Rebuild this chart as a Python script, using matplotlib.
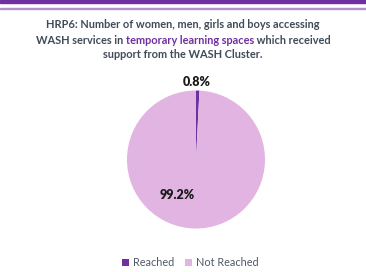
import matplotlib.pyplot as plt
from matplotlib.patches import Rectangle

labels = ["Reached", "Not Reached"]
values = [0.8, 99.2]
colors = ["#7030a0", "#e1b4e1"]

plt.rcParams['font.family'] = ['Lato', 'DejaVu Sans']

fig = plt.figure(figsize=(3.66, 2.72), dpi=100)

# top border bands
fig.patches.append(Rectangle((0, 1 - 2.7/272), 1, 2.7/272, transform=fig.transFigure,
                             color="#7030a0", zorder=0))
fig.patches.append(Rectangle((0, 1 - 9/272), 1, 1.5/272, transform=fig.transFigure,
                             color="#b48fd0", zorder=0))

title_c = "#404b5a"
fs = 7.9
fig.text(0.5, 1 - 25/272, "HRP6: Number of women, men, girls and boys accessing",
         ha="center", va="center", fontsize=fs, fontweight="bold", color=title_c)
# second line with highlighted phrase
parts = [("WASH services in ", title_c), ("temporary learning spaces", "#7030a0"),
         (" which received", title_c)]
t = fig.text(0.5, 1 - 40/272, "".join(p[0] for p in parts), ha="center", va="center",
             fontsize=fs, fontweight="bold", color=title_c, alpha=0)
fig.canvas.draw()
bb = t.get_window_extent()
x = bb.x0
for s, c in parts:
    tt = fig.text(x / fig.bbox.width, 1 - 40/272, s, ha="left", va="center",
                  fontsize=fs, fontweight="bold", color=c)
    fig.canvas.draw()
    x = tt.get_window_extent().x1
fig.text(0.5, 1 - 55/272, "support from the WASH Cluster.",
         ha="center", va="center", fontsize=fs, fontweight="bold", color=title_c)

r = 69
cx, cy = 196, 272 - 159.5
ax = fig.add_axes([(cx - r) / 366, (cy - r) / 272, 2 * r / 366, 2 * r / 272])
wedges, _ = ax.pie(values, colors=colors, startangle=90, counterclock=False,
                   radius=1, wedgeprops=dict(linewidth=0))
ax.set_xlim(-1, 1)
ax.set_ylim(-1, 1)
ax.axis("off")

fig.text(197 / 366, 1 - 82/272, f"{values[0]}%", ha="center", va="center",
         fontsize=9, fontweight="heavy", color="#1a1a1a")
fig.text(177 / 366, 1 - 195/272, f"{values[1]}%", ha="center", va="center",
         fontsize=9, fontweight="heavy", color="#1a1a1a")

fig.legend(wedges, labels, loc="center", bbox_to_anchor=(0.52, 1 - 263/272),
           ncol=2, frameon=False, fontsize=7.8, handlelength=0.65, handleheight=0.65,
           handletextpad=0.4, columnspacing=1.0, labelcolor="#505a68")

fig.savefig("out.png", dpi=100)
